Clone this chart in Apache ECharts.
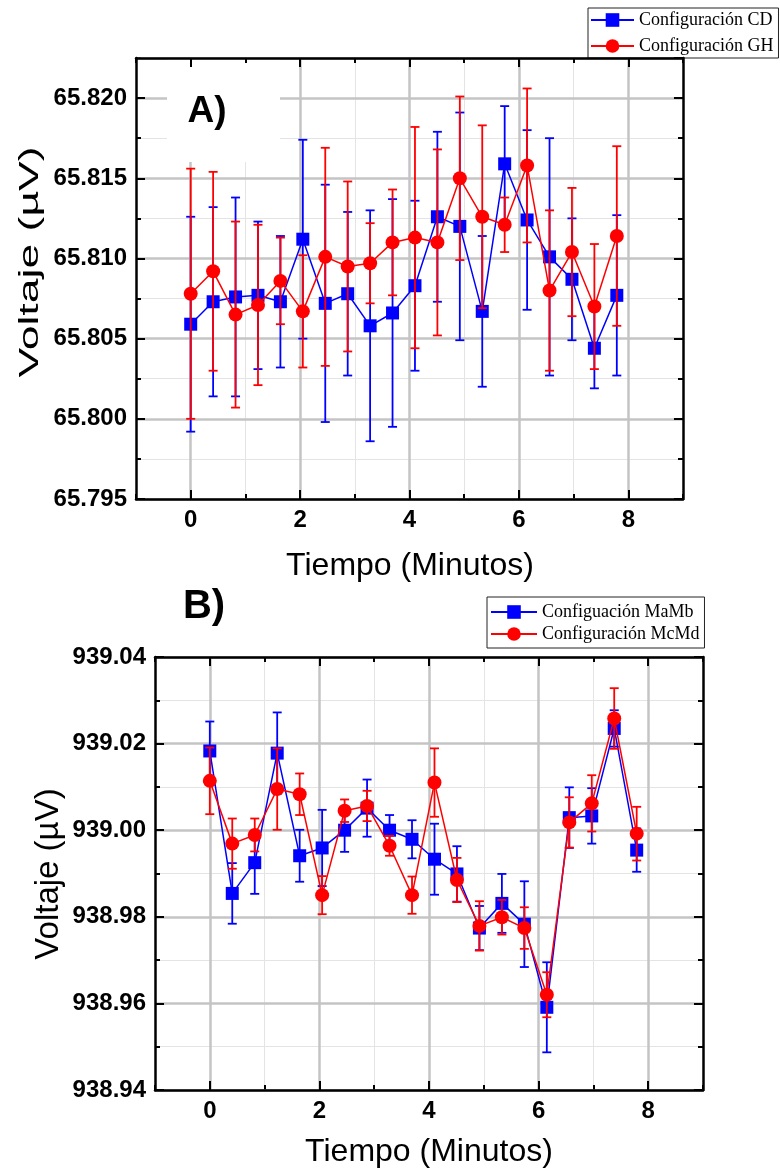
<!DOCTYPE html>
<html><head><meta charset="utf-8">
<script src="https://cdn.jsdelivr.net/npm/echarts@6/dist/echarts.min.js"></script>
<style>html,body{margin:0;padding:0;background:#fff}#c{width:780px;height:1171px}</style>
</head><body><div id="c"></div>
<script>
// ---------- data ----------
const times = [0, 0.41, 0.82, 1.23, 1.64, 2.05, 2.46, 2.87, 3.28, 3.69, 4.10, 4.51, 4.92, 5.33, 5.74, 6.15, 6.56, 6.97, 7.38, 7.79];
const xTickValues = [0, 2, 4, 6, 8];

const cdName = 'Configuración CD';
const cdMean = [65.8059, 65.8073, 65.8076, 65.8077, 65.8073, 65.8112, 65.8072, 65.8078, 65.8058, 65.8066, 65.8083, 65.8126, 65.8120, 65.8067, 65.8159, 65.8124, 65.8101, 65.8087, 65.8044, 65.8077];
const cdErr  = [0.0067, 0.0059, 0.0062, 0.0046, 0.0041, 0.0062, 0.0074, 0.0051, 0.0072, 0.0071, 0.0053, 0.0053, 0.0071, 0.0047, 0.0036, 0.0056, 0.0074, 0.0038, 0.0025, 0.0050];
const ghName = 'Configuración GH';
const ghMean = [65.8078, 65.8092, 65.8065, 65.8071, 65.8086, 65.8067, 65.8101, 65.8095, 65.8097, 65.8110, 65.8113, 65.8110, 65.8150, 65.8126, 65.8121, 65.8158, 65.8080, 65.8104, 65.8070, 65.8114];
const ghErr  = [0.0078, 0.0062, 0.0058, 0.0050, 0.0027, 0.0035, 0.0068, 0.0053, 0.0025, 0.0033, 0.0069, 0.0058, 0.0051, 0.0057, 0.0017, 0.0048, 0.0050, 0.0040, 0.0039, 0.0056];

const mabName = 'Configuación MaMb';
const mabMean = [939.0183, 938.9854, 938.9925, 939.0178, 938.9941, 938.9959, 939.0000, 939.0051, 939.0000, 938.9979, 938.9933, 938.9899, 938.9774, 938.9831, 938.9783, 938.9591, 939.0029, 939.0033, 939.0235, 938.9954];
const mabErr  = [0.0068, 0.0070, 0.0072, 0.0094, 0.0060, 0.0088, 0.0050, 0.0066, 0.0035, 0.0044, 0.0082, 0.0064, 0.0051, 0.0068, 0.0099, 0.0104, 0.0070, 0.0064, 0.0042, 0.0050];
const mcdName = 'Configuración McMd';
const mcdMean = [939.0114, 938.9969, 938.9989, 939.0095, 939.0083, 938.9850, 939.0045, 939.0056, 938.9964, 938.9850, 939.0110, 938.9885, 938.9779, 938.9799, 938.9774, 938.9620, 939.0018, 939.0062, 939.0258, 938.9992];
const mcdErr  = [0.0077, 0.0058, 0.0038, 0.0094, 0.0048, 0.0044, 0.0026, 0.0035, 0.0023, 0.0043, 0.0079, 0.0051, 0.0057, 0.0040, 0.0048, 0.0052, 0.0058, 0.0065, 0.0070, 0.0062];

const yTopRange = [65.795, 65.8225], yTopMajor = 0.005, yTopMinor = 0.0025;
const yBotRange = [938.94, 939.04], yBotMajor = 0.02, yBotMinor = 0.01;
const xRange = [-1, 9];

// ---------- styling ----------
const SANS = 'Liberation Sans, Arial, sans-serif';
const SERIF = 'Liberation Serif, Times New Roman, serif';
const MAJ = '#c4c4c4', MIN = '#e4e4e4';
const BLUE = '#0000ff', RED = '#ff0000';

const chart = echarts.init(document.getElementById('c'), null, {renderer: 'canvas'});

function tk(len) { return {show: true, inside: true, length: len, lineStyle: {color: '#000', width: 2}}; }
function xAxesFor(gi) {
  const b = {gridIndex: gi, type: 'value', min: xRange[0], max: xRange[1], interval: 1};
  return [
    Object.assign({}, b, {position: 'bottom', z: 1, axisLine: {show: false, onZero: false}, axisTick: tk(5), axisLabel: {show: false},
      splitLine: {show: true, lineStyle: {color: MIN, width: 1}}}),
    Object.assign({}, b, {position: 'bottom', z: 2,
      axisLine: {show: true, onZero: false, lineStyle: {color: '#000', width: 2.5}},
      axisTick: Object.assign(tk(9), {customValues: xTickValues}),
      axisLabel: {show: true, customValues: xTickValues, fontFamily: SANS, fontWeight: 'bold', fontSize: 24, color: '#000', margin: 9},
      splitLine: {show: true, lineStyle: {color: MAJ, width: 2.5}}}),
    Object.assign({}, b, {position: 'top', z: 8, axisLine: {show: false, onZero: false}, axisTick: tk(5), axisLabel: {show: false}, splitLine: {show: false}}),
    Object.assign({}, b, {position: 'top', z: 8,
      axisLine: {show: true, onZero: false, lineStyle: {color: '#000', width: 2.5}},
      axisTick: Object.assign(tk(9), {customValues: xTickValues}),
      axisLabel: {show: false}, splitLine: {show: false}})
  ];
}
function yAxesFor(gi, range, major, minor, dec, showMax) {
  const b = {gridIndex: gi, type: 'value', min: range[0], max: range[1]};
  return [
    Object.assign({}, b, {position: 'left', interval: minor, z: 1, axisLine: {show: false, onZero: false}, axisTick: tk(5), axisLabel: {show: false},
      splitLine: {show: true, lineStyle: {color: MIN, width: 1}}}),
    Object.assign({}, b, {position: 'left', interval: major, z: 2,
      axisLine: {show: true, onZero: false, lineStyle: {color: '#000', width: 2.5}},
      axisTick: tk(9),
      axisLabel: {show: true, showMaxLabel: showMax, showMinLabel: true, fontFamily: SANS, fontWeight: 'bold', fontSize: 24, color: '#000', margin: 9,
        formatter: v => Number(v).toFixed(dec)},
      splitLine: {show: true, lineStyle: {color: MAJ, width: 2.5}}}),
    Object.assign({}, b, {position: 'right', interval: minor, z: 8, axisLine: {show: false, onZero: false}, axisTick: tk(5), axisLabel: {show: false}, splitLine: {show: false}}),
    Object.assign({}, b, {position: 'right', interval: major, z: 8,
      axisLine: {show: true, onZero: false, lineStyle: {color: '#000', width: 2.5}},
      axisTick: tk(9), axisLabel: {show: false}, splitLine: {show: false}})
  ];
}

function errRender(color) {
  return function (params, api) {
    const x = api.value(0), lo = api.value(1), hi = api.value(2);
    const a = api.coord([x, lo]), c = api.coord([x, hi]);
    const w = 4.5;
    const st = {stroke: color, lineWidth: 1.8};
    return {type: 'group', children: [
      {type: 'line', shape: {x1: a[0], y1: a[1], x2: c[0], y2: c[1]}, style: st},
      {type: 'line', shape: {x1: a[0] - w, y1: a[1], x2: a[0] + w, y2: a[1]}, style: st},
      {type: 'line', shape: {x1: c[0] - w, y1: c[1], x2: c[0] + w, y2: c[1]}, style: st}
    ]};
  };
}
function errSeries(name, mean, err, color, xi, yi, z) {
  return {type: 'custom', name: name, xAxisIndex: xi, yAxisIndex: yi, z: z,
    data: times.map((t, i) => [t, mean[i] - err[i], mean[i] + err[i]]),
    encode: {x: 0, y: [1, 2]}, renderItem: errRender(color), silent: true};
}
function lineSeries(name, mean, color, symbol, size, xi, yi, z) {
  return {type: 'line', name: name, xAxisIndex: xi, yAxisIndex: yi, z: z,
    data: times.map((t, i) => [t, mean[i]]),
    symbol: symbol, symbolSize: size, showSymbol: true,
    lineStyle: {color: color, width: 1.5}, itemStyle: {color: color, opacity: 1}};
}
function legendFor(names, left, top, padding, gap, iw) {
  return {orient: 'vertical', left: left, top: top, data: names, padding: padding, itemGap: gap,
    itemWidth: iw, itemHeight: 17, backgroundColor: '#fff', borderColor: '#222', borderWidth: 1, borderRadius: 0,
    textStyle: {fontFamily: SERIF, fontSize: 18, color: '#000', lineHeight: 20}, selectedMode: false};
}

const option = {
  animation: false,
  backgroundColor: '#fff',
  grid: [
    {left: 136, top: 58, width: 547, height: 441, containLabel: false},
    {left: 155, top: 657, width: 548, height: 433, containLabel: false}
  ],
  xAxis: xAxesFor(0).concat(xAxesFor(1)),
  yAxis: yAxesFor(0, yTopRange, yTopMajor, yTopMinor, 3, false).concat(yAxesFor(1, yBotRange, yBotMajor, yBotMinor, 2, true)),
  legend: [
    legendFor([cdName, ghName], 588, 8, [2, 5, 2, 2], 6, 43),
    legendFor([mabName, mcdName], 487, 597, [5, 5, 4, 3], 2, 46)
  ],
  series: [
    errSeries('eCD', cdMean, cdErr, BLUE, 1, 1, 4),
    lineSeries(cdName, cdMean, BLUE, 'rect', 13, 1, 1, 5),
    errSeries('eGH', ghMean, ghErr, RED, 1, 1, 6),
    lineSeries(ghName, ghMean, RED, 'circle', 14, 1, 1, 7),
    errSeries('eMaMb', mabMean, mabErr, BLUE, 5, 5, 4),
    lineSeries(mabName, mabMean, BLUE, 'rect', 13, 5, 5, 5),
    errSeries('eMcMd', mcdMean, mcdErr, RED, 5, 5, 6),
    lineSeries(mcdName, mcdMean, RED, 'circle', 14, 5, 5, 7)
  ],
  graphic: [
    {type: 'rect', shape: {x: 167, y: 59.5, width: 113, height: 102.5}, style: {fill: '#fff'}, z: 3, silent: true},
    {type: 'text', x: 207, y: 112, z: 9, style: {text: 'A)', fontFamily: SANS, fontWeight: 'bold', fontSize: 37, fill: '#000', align: 'center', verticalAlign: 'middle'}},
    {type: 'text', x: 204, y: 607, z: 9, style: {text: 'B)', fontFamily: SANS, fontWeight: 'bold', fontSize: 40, fill: '#000', align: 'center', verticalAlign: 'middle'}},
    {type: 'text', x: 31, y: 262, rotation: Math.PI / 2, scaleX: 1.65, z: 9, style: {text: 'Voltaje (µV)', fontFamily: SANS, fontSize: 27, fill: '#000', align: 'center', verticalAlign: 'middle'}},
    {type: 'text', x: 49, y: 874, rotation: Math.PI / 2, z: 9, style: {text: 'Voltaje (µV)', fontFamily: SANS, fontSize: 33, fill: '#000', align: 'center', verticalAlign: 'middle'}},
    {type: 'text', x: 410, y: 566, z: 9, style: {text: 'Tiempo (Minutos)', fontFamily: SANS, fontSize: 32, fill: '#000', align: 'center', verticalAlign: 'middle'}},
    {type: 'text', x: 429, y: 1152, z: 9, style: {text: 'Tiempo (Minutos)', fontFamily: SANS, fontSize: 32, fill: '#000', align: 'center', verticalAlign: 'middle'}}
  ]
};
chart.setOption(option);
</script>
</body></html>
